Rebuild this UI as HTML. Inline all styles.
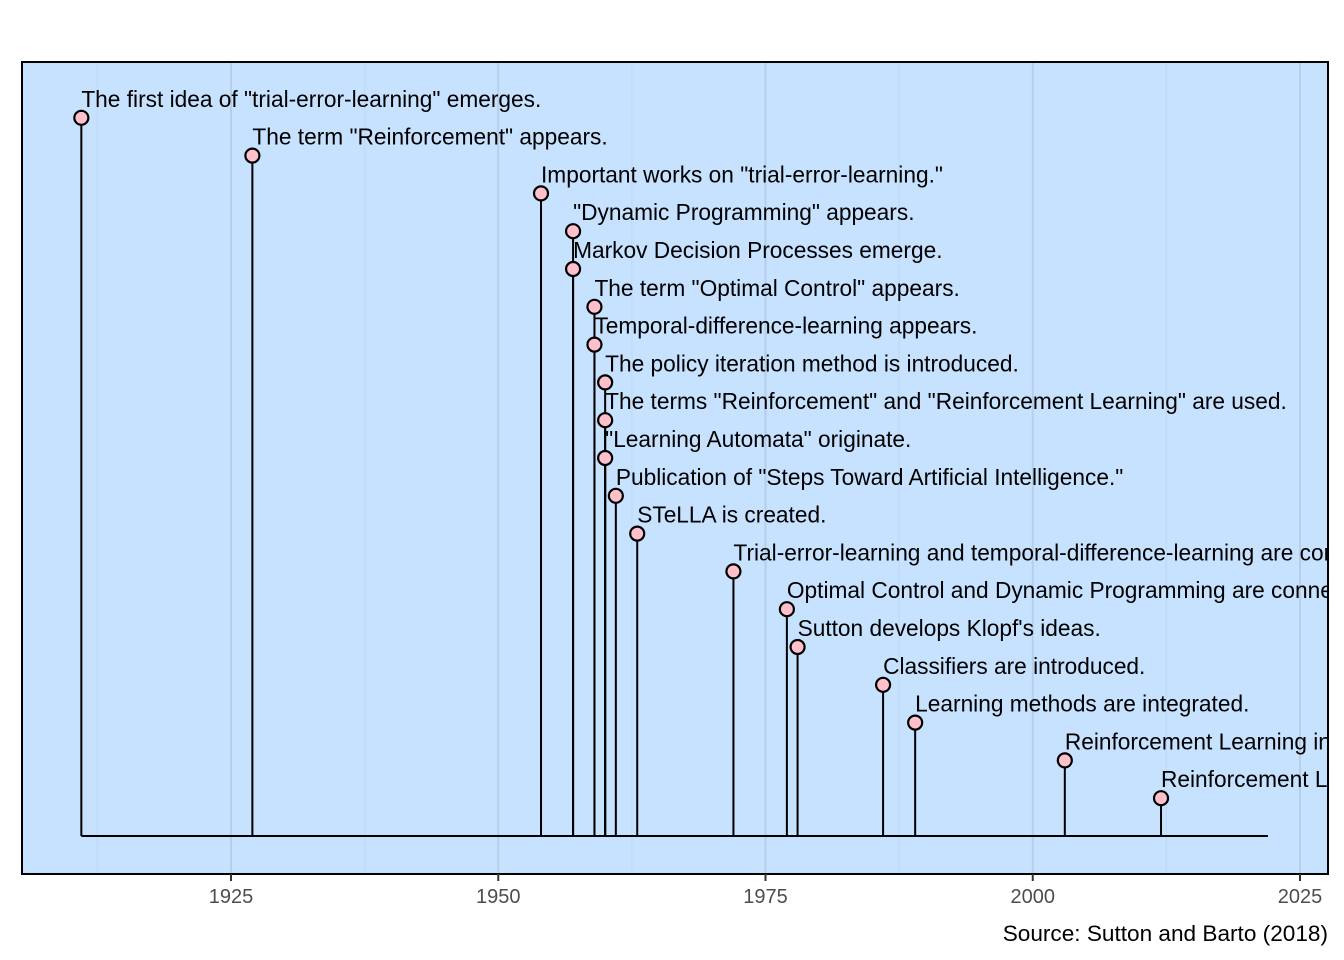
<!DOCTYPE html>
<html><head><meta charset="utf-8"><style>body{margin:0;background:#fff}svg{display:block;font-family:"Liberation Sans",Arial,sans-serif}</style></head>
<body>
<svg id="chart" width="1344" height="960" viewBox="0 0 1344 960" xmlns="http://www.w3.org/2000/svg">
<defs><clipPath id="pc"><rect x="22" y="62" width="1306" height="812"/></clipPath></defs>
<rect x="22" y="62" width="1306" height="812" fill="#c6e2ff"/>
<g id="grid"></g>
<g id="marks" clip-path="url(#pc)"></g>
<rect x="22" y="62" width="1306" height="812" fill="none" stroke="#000" stroke-width="2"/>
<g id="axis"></g>
<text x="1328" y="941" text-anchor="end" font-size="22.6" fill="#000">Source: Sutton and Barto (2018)</text>
</svg>
<script>
const years = [1911,1927,1954,1957,1957,1959,1959,1960,1960,1960,1961,1963,1972,1977,1978,1986,1989,2003,2012];
const levels = [19,18,17,16,15,14,13,12,11,10,9,8,7,6,5,4,3,2,1];
const labels = ['The first idea of "trial-error-learning" emerges.','The term "Reinforcement" appears.','Important works on "trial-error-learning."','"Dynamic Programming" appears.','Markov Decision Processes emerge.','The term "Optimal Control" appears.','Temporal-difference-learning appears.','The policy iteration method is introduced.','The terms "Reinforcement" and "Reinforcement Learning" are used.','"Learning Automata" originate.','Publication of "Steps Toward Artificial Intelligence."','STeLLA is created.','Trial-error-learning and temporal-difference-learning are combined.','Optimal Control and Dynamic Programming are connected.','Sutton develops Klopf\'s ideas.','Classifiers are introduced.','Learning methods are integrated.','Reinforcement Learning in games.','Reinforcement Learning breakthroughs.'];
const tickYears = [1925,1950,1975,2000,2025];
const minorYears = [1912.5,1937.5,1962.5,1987.5,2012.5];
const baselineEnd = 2022;
const NS='http://www.w3.org/2000/svg';
const xs = y => 231 + (y-1925)*(1300-231)/100;
const ys = l => 836 - l*37.8;
function mk(tag, attrs, parent){const e=document.createElementNS(NS,tag);for(const k in attrs)e.setAttribute(k,attrs[k]);parent.appendChild(e);return e;}
const grid=document.getElementById('grid'), marks=document.getElementById('marks'), axis=document.getElementById('axis');
minorYears.forEach(y=>{const l=mk('line',{x1:xs(y),x2:xs(y),y1:62,y2:874,stroke:'#bdd8f3','stroke-width':1},grid);

});
tickYears.forEach(y=>{const l=mk('line',{x1:xs(y),x2:xs(y),y1:62,y2:874,stroke:'#b6cfe8','stroke-width':2},grid);


const t=mk('line',{x1:xs(y),x2:xs(y),y1:874,y2:881,stroke:'#333','stroke-width':2},axis);


const tx=mk('text',{x:xs(y),y:903,'text-anchor':'middle','font-size':20,fill:'#4d4d4d'},axis);tx.textContent=y;

});
const bl=mk('line',{x1:xs(years[0]),x2:xs(baselineEnd),y1:ys(0),y2:ys(0),stroke:'#000','stroke-width':2},marks);


years.forEach((y,i)=>{const x=xs(y),yy=ys(levels[i]);
const s=mk('line',{x1:x,x2:x,y1:ys(0),y2:yy,stroke:'#000','stroke-width':2},marks);


const c=mk('circle',{cx:x,cy:yy,r:7,fill:'#ffc0cb',stroke:'#000','stroke-width':2.2},marks);


const t=mk('text',{x:x,y:yy-11,'font-size':22.7,fill:'#000'},marks);t.textContent=labels[i];

});
</script>
</body></html>
